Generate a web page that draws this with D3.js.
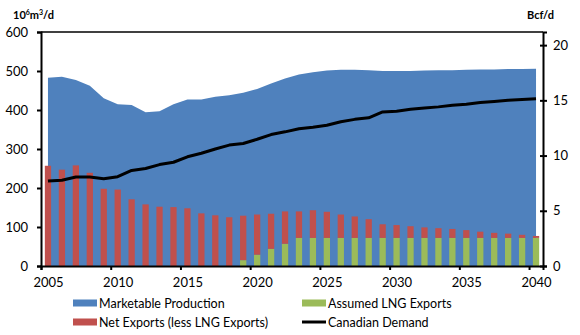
<!DOCTYPE html>
<html>
<head>
<meta charset="utf-8">
<script src="https://cdn.jsdelivr.net/npm/d3@7"></script>
<style>
  body { margin: 0; background: #fff; }
  svg text { font-family: Lato, "Open Sans", sans-serif; fill: #000; }
</style>
</head>
<body>
<div id="chart"></div>
<script>
// data
const years = d3.range(2005, 2041)
const production = [483, 485, 477, 462, 430, 415, 413, 394, 397, 415,
  427, 427, 434, 438, 444, 454, 468, 481, 491, 497,
  501, 503, 503, 502, 500, 500, 500, 501, 502, 502,
  503, 504, 504, 505, 505, 506]
const lngExports = [0, 0, 0, 0, 0, 0, 0, 0, 0, 0,
  0, 0, 0, 0, 15, 29, 44, 57, 72, 72,
  72, 72, 72, 72, 72, 72, 72, 72, 72, 72,
  72, 72, 72, 72, 72, 72]
// total height of the export bar (LNG + net exports)
const totalExports = [257, 247, 258, 239, 198, 196, 171, 158, 152, 151,
  148, 135, 130, 125, 129, 132, 134, 140, 140, 143,
  139, 132, 127, 120, 107, 105, 102, 99, 97, 95,
  92, 88, 85, 83, 80, 77]
const netExports = totalExports.map((t, i) => t - lngExports[i])
const demand = [218, 220, 228, 228, 224, 229, 245, 250, 260, 266,
  280, 289, 300, 310, 314, 325, 337, 344, 352, 356,
  361, 370, 376, 380, 395, 397, 402, 405, 408, 412,
  415, 419, 422, 425, 427, 429]
const leftTicks = [0, 100, 200, 300, 400, 500, 600]
const rightTicks = [0, 5, 10, 15, 20]
const yearTicks = [2005, 2010, 2015, 2020, 2025, 2030, 2035, 2040]

const colBlue = "#4f81bd"
const colRed = "#c0504d"
const colGreen = "#9bbb59"

// layout
const w = 580, h = 335
const m = {left: 41, right: 37, top: 32, bottom: 69}

const svg = d3.select("#chart").append("svg")
    .attr("width", w)
    .attr("height", h)

// scales
let x = d3.scaleBand().domain(years).range([m.left, w - m.right]).padding(0)
let xl = d3.scaleLinear().domain([2005, 2041]).range([m.left, w - m.right])
let y = d3.scaleLinear().domain([0, 600]).range([h - m.bottom, m.top])
let y2 = d3.scaleLinear().domain([0, 600 * 0.0353147]).range([h - m.bottom, m.top])
let cx = function (yr) { return x(yr) + x.bandwidth() / 2 }

// production area
svg.append("path")
    .datum(years)
    .attr("fill", colBlue)
    .attr("d", d3.area()
        .x(d => cx(d))
        .y0(y(0))
        .y1((d, i) => y(production[i])))

// stacked bars: LNG at the bottom, net exports on top
let barW = x.bandwidth() * 0.45
svg.append("g").selectAll("rect")
    .data(years)
    .enter()
    .append("rect")
    .attr("x", d => cx(d) - barW / 2)
    .attr("width", barW)
    .attr("y", (d, i) => y(lngExports[i]))
    .attr("height", (d, i) => y(0) - y(lngExports[i]))
    .attr("fill", colGreen)

svg.append("g").selectAll("rect")
    .data(years)
    .enter()
    .append("rect")
    .attr("x", d => cx(d) - barW / 2)
    .attr("width", barW)
    .attr("y", (d, i) => y(lngExports[i] + netExports[i]))
    .attr("height", (d, i) => y(lngExports[i]) - y(lngExports[i] + netExports[i]))
    .attr("fill", colRed)

// demand line
svg.append("path")
    .datum(years)
    .attr("fill", "none")
    .attr("stroke", "#000")
    .attr("stroke-width", 3)
    .attr("stroke-linejoin", "round")
    .attr("d", d3.line()
        .x(d => cx(d))
        .y((d, i) => y(demand[i])))

// top border of plot
svg.append("line")
    .attr("x1", m.left).attr("x2", w - m.right)
    .attr("y1", m.top).attr("y2", m.top)
    .attr("stroke", "#000").attr("stroke-width", 1.5)

// axes
let yAxis = svg.append("g")
    .attr("transform", "translate(" + m.left + ",0)")
    .call(d3.axisLeft(y).tickValues(leftTicks).tickSize(4).tickPadding(9))
let y2Axis = svg.append("g")
    .attr("transform", "translate(" + (w - m.right) + ",0)")
    .call(d3.axisRight(y2).tickValues(rightTicks).tickSize(4).tickPadding(6))
let xAxis = svg.append("g")
    .attr("transform", "translate(0," + (h - m.bottom) + ")")
    .call(d3.axisBottom(xl).tickValues(yearTicks).tickFormat(d3.format("d")).tickSize(4).tickPadding(8))

xAxis.selectAll("text").attr("dx", x.bandwidth() / 2)

for (let ax of [yAxis, y2Axis, xAxis]) {
  ax.select(".domain").attr("stroke", "#000").attr("stroke-width", 2)
  ax.selectAll(".tick line").attr("stroke", "#000").attr("stroke-width", 2)
  ax.selectAll("text").attr("font-size", 13).attr("font-family", "Lato, sans-serif")
}
y2Axis.selectAll(".tick line").attr("x1", -3)

// unit labels
let unitL = svg.append("text")
    .attr("x", 13).attr("y", 19)
    .attr("font-size", 11).attr("font-weight", "bold")
unitL.append("tspan").text("10")
unitL.append("tspan").text("6").attr("font-size", 7).attr("dy", -4)
unitL.append("tspan").text("m").attr("dy", 4)
unitL.append("tspan").text("3").attr("font-size", 7).attr("dy", -4)
unitL.append("tspan").text("/d").attr("dy", 4)

svg.append("text")
    .attr("x", 527).attr("y", 19)
    .attr("font-size", 11).attr("font-weight", "bold")
    .text("Bcf/d")

// legend
let legend = [
  {label: "Marketable Production", color: colBlue, type: "box", x: 73, y: 303},
  {label: "Assumed LNG Exports", color: colGreen, type: "box", x: 302, y: 303},
  {label: "Net Exports (less LNG Exports)", color: colRed, type: "box", x: 73, y: 322},
  {label: "Canadian Demand", color: "#000", type: "line", x: 302, y: 322}
]
let lg = svg.append("g").selectAll("g")
    .data(legend)
    .enter()
    .append("g")
    .attr("transform", d => "translate(" + d.x + "," + d.y + ")")
lg.filter(d => d.type === "box").append("rect")
    .attr("x", 0).attr("y", -3.5).attr("width", 24).attr("height", 7)
    .attr("fill", d => d.color)
lg.filter(d => d.type === "line").append("line")
    .attr("x1", 0).attr("x2", 24).attr("y1", 0).attr("y2", 0)
    .attr("stroke", "#000").attr("stroke-width", 3)
lg.append("text")
    .attr("x", 26).attr("y", 4.5)
    .attr("font-size", 12.5)
    .text(d => d.label)
</script>
</body>
</html>
